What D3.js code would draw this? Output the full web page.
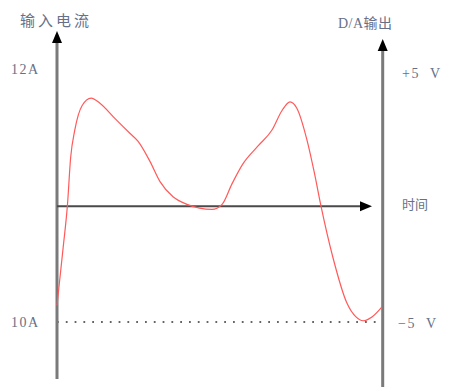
<!DOCTYPE html>
<html><head><meta charset="utf-8">
<script src="https://cdn.jsdelivr.net/npm/d3@7"></script>
<style>html,body{margin:0;padding:0;background:#fff;}svg{display:block;}</style>
</head><body>
<script>
// time points (0..10) and input current (A)
const time = [0,0.19,0.32,0.42,0.55,0.77,1.05,1.32,1.78,2.25,2.49,2.86,3.17,3.57,4.0,4.77,5.08,5.38,5.72,6.18,6.62,6.92,7.17,7.38,7.69,7.91,8.12,8.49,8.92,9.2,9.42,9.69,10];
const current = [10.13,10.59,10.92,11.30,11.52,11.71,11.77,11.73,11.61,11.49,11.43,11.27,11.11,10.99,10.93,10.89,10.93,11.09,11.25,11.39,11.52,11.67,11.74,11.69,11.44,11.19,10.92,10.51,10.15,10.04,10.01,10.04,10.12];
const leftTicks = [12, 10];
const leftTickLabels = ["12A", "10A"];
const rightTicks = [5, -5];
const rightTickLabels = ["+5\u00a0\u00a0V", "\u22125\u00a0\u00a0V"];
const timeAxisLevel = 10.915;
const leftTitle = "输入电流";
const rightTitle = "D/A输出";
const timeTitle = "时间";

const W = 449, H = 387;
const svg = d3.select("body").append("svg").attr("width", W).attr("height", H);
const x = d3.scaleLinear().domain([0, 10]).range([57, 382]);
const y = d3.scaleLinear().domain([10, 12]).range([322, 69]);
const yv = d3.scaleLinear().domain([-5, 5]).range([323, 73]);

const textColor = "#667089";
const font = "'Liberation Serif','Noto Sans CJK SC',serif";

// dotted line at -5 V / 10A
svg.append("line").attr("x1", x(0)).attr("x2", x(10) - 4).attr("y1", y(10)).attr("y2", y(10))
  .attr("stroke", "#333").attr("stroke-width", 1.6).attr("stroke-dasharray", "1.8,7");

// left vertical axis
svg.append("line").attr("x1", x(0)).attr("x2", x(0)).attr("y1", 379).attr("y2", 42)
  .attr("stroke", "#7a7a7a").attr("stroke-width", 3);
svg.append("path").attr("d", `M${x(0)},31 L${x(0)-5},43 L${x(0)+5},43 Z`).attr("fill", "#000");

// right vertical axis
svg.append("line").attr("x1", x(10)+0.7).attr("x2", x(10)+0.7).attr("y1", H).attr("y2", 50)
  .attr("stroke", "#7a7a7a").attr("stroke-width", 3);
svg.append("path").attr("d", `M${x(10)+0.7},39 L${x(10)-4.3},51 L${x(10)+5.7},51 Z`).attr("fill", "#000");

// horizontal time axis
const ya = y(timeAxisLevel);
svg.append("line").attr("x1", x(0)).attr("x2", 362).attr("y1", ya).attr("y2", ya)
  .attr("stroke", "#4a4a4a").attr("stroke-width", 2);
svg.append("path").attr("d", `M372,${ya} L360,${ya-5} L360,${ya+5} Z`).attr("fill", "#000");

// curve
const line = d3.line().x((d, i) => x(time[i])).y(d => y(d)).curve(d3.curveMonotoneX);
svg.append("path").datum(current).attr("d", line).attr("fill", "none")
  .attr("stroke", "#ff5a5a").attr("stroke-width", 1.2);

// labels
svg.append("text").attr("x", 20).attr("y", 26).text(leftTitle)
  .attr("font-family", font).attr("font-size", 15).attr("letter-spacing", 3).attr("fill", textColor);
svg.append("text").attr("x", 338).attr("y", 28).text(rightTitle)
  .attr("font-family", font).attr("font-size", 14).attr("letter-spacing", 0.5).attr("fill", textColor);
svg.append("text").attr("x", 402).attr("y", 209).text(timeTitle)
  .attr("font-family", font).attr("font-size", 13).attr("letter-spacing", 0).attr("fill", textColor);

svg.selectAll(".lt").data(leftTicks).join("text").attr("class", "lt")
  .attr("x", 11).attr("y", d => y(d) + 5).text((d, i) => leftTickLabels[i])
  .attr("font-family", font).attr("font-size", 14).attr("letter-spacing", 1.5).attr("fill", textColor);
svg.selectAll(".rt").data(rightTicks).join("text").attr("class", "rt")
  .attr("x", d => d > 0 ? 402 : 398).attr("y", d => yv(d) + 5).text((d, i) => rightTickLabels[i])
  .attr("font-family", font).attr("font-size", 14).attr("letter-spacing", 1.5).attr("fill", textColor);
</script>
</body></html>
